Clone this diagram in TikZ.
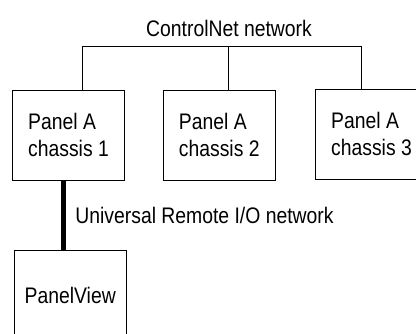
\documentclass[tikz,border=0pt]{standalone}
\usepackage{fontspec}
\setmainfont{Liberation Sans}[FakeStretch=0.86]
\usetikzlibrary{positioning}

\begin{document}
\begin{tikzpicture}[x=1pt, y=-1pt, line width=0.9pt,
    every node/.style={font=\fontsize{22.5}{27}\selectfont},
    panel/.style={draw, minimum width=112pt, minimum height=90pt, align=left, inner sep=0pt},
    rio/.style={line width=5pt}]
    \clip (0,0) rectangle (416,333);
    \node[panel] (c1) at (68.5,135) {Panel A\\chassis 1};
    \node[panel] (c2) at (219.25,135) {Panel A\\chassis 2};
    \node[panel] (c3) at (371.5,134) {Panel A\\chassis 3};
    \node[panel] (pv) at (70.25,295) {PanelView};
    \node[anchor=base, inner sep=0pt] (cnet) at (229,36) {ControlNet network};
    \coordinate (b1) at (82.7,46);
    \coordinate (b2) at (228.3,46);
    \coordinate (b3) at (361.3,46);
    \draw (b1) -- (b3);
    \draw (b1) -- (b1 |- c1.north);
    \draw (b2) -- (b2 |- c2.north);
    \draw (b3) -- (b3 |- c3.north);
    \draw[rio] ([xshift=-5pt]c1.south) -- ([xshift=-5pt]c1.south |- pv.north);
    \node[anchor=base west, inner sep=0pt] (rio) at (75,223) {Universal Remote I/O network};
\end{tikzpicture}
\end{document}
